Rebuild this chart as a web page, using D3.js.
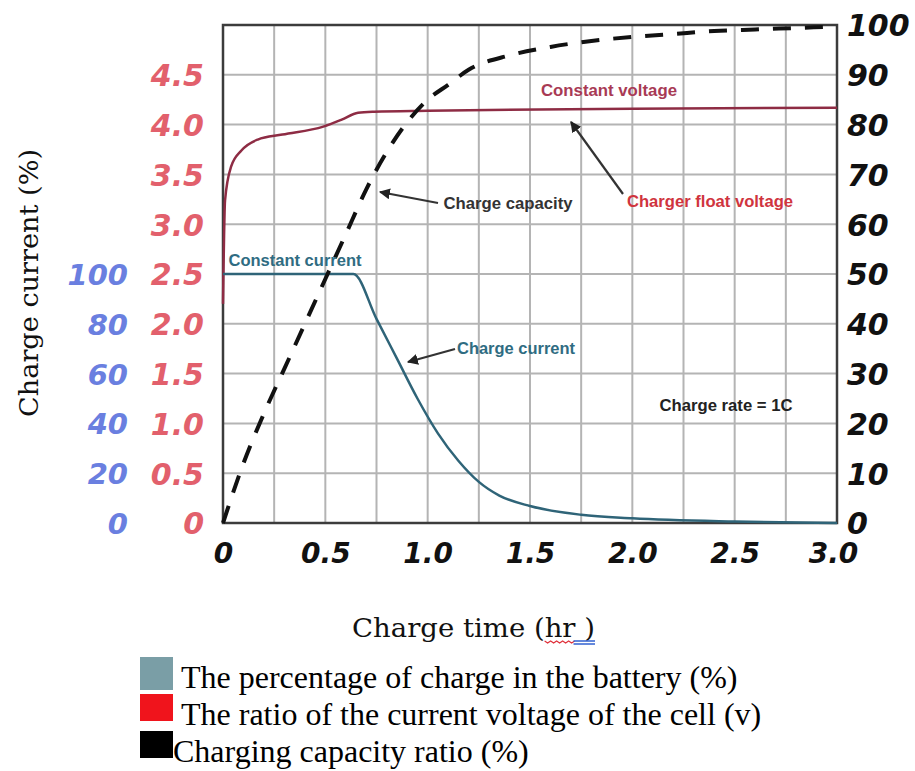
<!DOCTYPE html>
<html lang="en">
<head>
<meta charset="UTF-8">
<title>Charge curves</title>
<style>
  body { margin: 0; background: #fff; }
  svg { display: block; }
  .num { font-family: "DejaVu Sans", Verdana, sans-serif; font-weight: bold; font-style: italic; }
  .note { font-family: "Liberation Sans Narrow", "Arial Narrow", "Liberation Sans", sans-serif; font-weight: bold; }
</style>
</head>
<body>
<div id="chart"></div>
<script src="https://cdnjs.cloudflare.com/ajax/libs/d3/7.8.5/d3.min.js"></script>
<script>
// tick values
var timeTicks = [0, 0.5, 1.0, 1.5, 2.0, 2.5, 3.0];
var voltTicks = [0, 0.5, 1.0, 1.5, 2.0, 2.5, 3.0, 3.5, 4.0, 4.5];
var currentTicks = [0, 20, 40, 60, 80, 100];
var capTicks = [0, 10, 20, 30, 40, 50, 60, 70, 80, 90, 100];

// cell voltage (V)
var voltTime  = [0, 0.01, 0.04, 0.09, 0.17, 0.29, 0.49, 0.58, 0.66, 0.74, 1.0, 2.0, 3.0];
var voltValue = [2.2, 3.24, 3.58, 3.74, 3.85, 3.90, 3.98, 4.05, 4.12, 4.13, 4.14, 4.16, 4.17];

// charge current (%)
var currTime  = [0, 0.3, 0.637, 0.75, 0.85, 0.95, 1.05, 1.15, 1.25, 1.35, 1.5, 1.75, 2.0, 2.5, 3.0];
var currValue = [100, 100, 100, 82, 66, 50, 36, 25, 16.5, 11, 6.8, 3.3, 1.9, 0.6, 0];

// charge capacity (%)
var capTime  = [0, 0.1, 0.2, 0.3, 0.4, 0.5, 0.6, 0.7, 0.8, 0.9, 1.0, 1.1, 1.2, 1.4, 1.6, 1.8, 2.0, 2.2, 2.4, 2.6, 2.8, 3.0];
var capValue = [0, 12, 22, 31, 40, 49, 58, 67, 74.5, 80.5, 85, 88, 91, 93.9, 95.6, 96.8, 97.6, 98.2, 98.8, 99.1, 99.4, 99.7];

var legendLabels = ['The percentage of charge in the battery (%)',
                    'The ratio of the current voltage of the cell (v)',
                    'Charging capacity ratio (%)'];
var legendColors = ['#7a9ea6', '#f0141c', '#000000'];

var W = 915, H = 771;
var svg = d3.select('#chart').append('svg').attr('width', W).attr('height', H);

var x = d3.scaleLinear().domain([0, 3]).range([223, 837]);
var yV = d3.scaleLinear().domain([0, 5]).range([523, 25]);
var yC = d3.scaleLinear().domain([0, 200]).range([523, 25]);
var yP = d3.scaleLinear().domain([0, 100]).range([523, 25]);

// grid
var grid = svg.append('g');
grid.selectAll('line.v').data(d3.range(0, 3.001, 0.25)).enter().append('line')
  .attr('x1', d => x(d)).attr('x2', d => x(d))
  .attr('y1', yP(0)).attr('y2', yP(100))
  .style('stroke', '#b4b4b4').style('stroke-width', 2);
grid.selectAll('line.h').data(capTicks).enter().append('line')
  .attr('x1', x(0)).attr('x2', x(3))
  .attr('y1', d => yP(d)).attr('y2', d => yP(d))
  .style('stroke', '#b4b4b4').style('stroke-width', 2);

// frame
svg.append('rect')
  .attr('x', x(0)).attr('y', yP(100))
  .attr('width', x(3) - x(0)).attr('height', yP(0) - yP(100))
  .style('fill', 'none').style('stroke', '#3c3c3c').style('stroke-width', 2.5);

// axes (labels only)
var xAxis = svg.append('g').attr('transform', 'translate(0,' + 543 + ')')
  .call(d3.axisBottom(x).tickValues(timeTicks).tickSize(0).tickPadding(0)
    .tickFormat(d => d === 0 ? '0' : d3.format('.1f')(d)));
var yAxisV = svg.append('g').attr('transform', 'translate(204,0)')
  .call(d3.axisLeft(yV).tickValues(voltTicks).tickSize(0).tickPadding(0)
    .tickFormat(d => d === 0 ? '0' : d3.format('.1f')(d)));
var yAxisC = svg.append('g').attr('transform', 'translate(128,0)')
  .call(d3.axisLeft(yC).tickValues(currentTicks).tickSize(0).tickPadding(0));
var yAxisP = svg.append('g').attr('transform', 'translate(847,0)')
  .call(d3.axisRight(yP).tickValues(capTicks).tickSize(0).tickPadding(0));

[xAxis, yAxisV, yAxisC, yAxisP].forEach(function (a) {
  a.select('.domain').remove();
  a.selectAll('text').attr('class', 'num');
});
xAxis.selectAll('text').style('font-size', '28px').style('fill', '#111').attr('dy', '0.71em')
  .attr('x', d => d === 3 ? -4 : 0);
yAxisV.selectAll('text').style('font-size', '30px').style('fill', '#e2606c').attr('dy', '0.36em');
yAxisC.selectAll('text').style('font-size', '29px').style('fill', '#6a7fe0').attr('dy', '0.36em');
yAxisP.selectAll('text').style('font-size', '30px').style('fill', '#111').attr('dy', '0.36em');

// series
var line = d3.line().curve(d3.curveMonotoneX);

svg.append('path')
  .attr('d', line(voltTime.map((t, i) => [x(t), yV(voltValue[i])])))
  .style('fill', 'none').style('stroke', '#8e2c44').style('stroke-width', 2.5);

svg.append('path')
  .attr('d', line(currTime.map((t, i) => [x(t), yC(currValue[i])])))
  .style('fill', 'none').style('stroke', '#2f6478').style('stroke-width', 2.5);

svg.append('path')
  .attr('d', line(capTime.map((t, i) => [x(t), yP(capValue[i])])))
  .style('fill', 'none').style('stroke', '#111').style('stroke-width', 4)
  .style('stroke-dasharray', '18,14');

// annotations
var defs = svg.append('defs');
defs.append('marker').attr('id', 'arr').attr('viewBox', '0 0 10 10')
  .attr('refX', 9).attr('refY', 5).attr('markerWidth', 5).attr('markerHeight', 5)
  .attr('orient', 'auto')
  .append('path').attr('d', 'M0,0L10,5L0,10z').style('fill', '#222');

function note(txt, cx, cy, len, color) {
  svg.append('text').attr('class', 'note')
    .attr('x', cx).attr('y', cy).attr('dy', '0.35em')
    .attr('text-anchor', 'middle')
    .attr('textLength', len).attr('lengthAdjust', 'spacingAndGlyphs')
    .style('font-size', '16px').style('fill', color).text(txt);
}
function arrow(x1, y1, x2, y2) {
  svg.append('line').attr('x1', x1).attr('y1', y1).attr('x2', x2).attr('y2', y2)
    .style('stroke', '#333').style('stroke-width', 2.2).attr('marker-end', 'url(#arr)');
}
note('Constant voltage', 609, 90, 136, '#a83a55');
note('Charge capacity', 508, 203, 129, '#333');
note('Charger float voltage', 710, 201, 166, '#d0343e');
note('Constant current', 295, 260, 133, '#2f6c82');
note('Charge current', 516, 348, 118, '#2f6c82');
note('Charge rate = 1C', 726, 405, 133, '#222');
arrow(438, 203, 380, 192);
arrow(623, 194, 571, 122);
arrow(455, 349, 408, 362);

// axis titles
var serif = '"DejaVu Serif", "Liberation Serif", serif';
svg.append('text')
  .attr('transform', 'translate(38,283) rotate(-90)')
  .attr('text-anchor', 'middle')
  .attr('textLength', 268).attr('lengthAdjust', 'spacingAndGlyphs')
  .style('font-family', serif).style('font-size', '26px').style('fill', '#111')
  .text('Charge current (%)');

var xTitle = svg.append('text')
  .attr('x', 352).attr('y', 637)
  .attr('textLength', 243).attr('lengthAdjust', 'spacingAndGlyphs')
  .style('font-family', serif).style('font-size', '26px').style('fill', '#111')
  .text('Charge time (hr )');
var tn = xTitle.node();
var hx = tn.getStartPositionOfChar(13).x, rx = tn.getEndPositionOfChar(14).x;
var ex = tn.getEndPositionOfChar(16).x;
var zig = d3.range(hx, rx, 3).map((v, i) => [v, 641 + (i % 2 ? 2 : 0)]);
svg.append('path').attr('d', d3.line()(zig))
  .style('fill', 'none').style('stroke', '#e0303a').style('stroke-width', 1.2);
svg.append('line').attr('x1', rx - 2).attr('x2', ex).attr('y1', 641).attr('y2', 641)
  .style('stroke', '#3060d0').style('stroke-width', 1.5);
svg.append('line').attr('x1', rx - 2).attr('x2', ex).attr('y1', 644).attr('y2', 644)
  .style('stroke', '#3060d0').style('stroke-width', 1.5);

// legend
var leg = svg.append('g');
var rows = leg.selectAll('g').data(legendLabels).enter().append('g')
  .attr('transform', (d, i) => 'translate(140,' + (657 + i * 37) + ')');
rows.append('rect')
  .attr('width', 33).attr('height', (d, i) => i === 0 ? 33 : 27)
  .style('fill', (d, i) => legendColors[i]);
rows.append('text')
  .attr('x', (d, i) => i === 2 ? 33 : 41).attr('y', 31)
  .style('font-family', '"Liberation Serif", "Times New Roman", serif')
  .style('font-size', '32px').style('fill', '#000')
  .text(d => d);
</script>
</body>
</html>
